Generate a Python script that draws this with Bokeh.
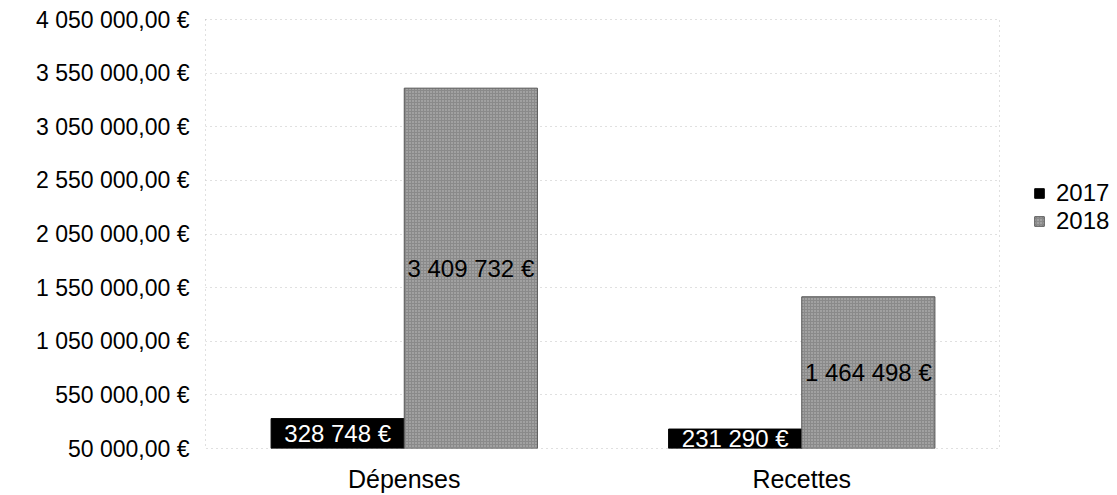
from bokeh.plotting import figure
from bokeh.models import ColumnDataSource, FixedTicker, Range1d, Legend, LegendItem, FactorRange
from bokeh.layouts import row
from bokeh.transform import dodge
from bokeh.core.properties import value
from bokeh.embed import file_html
from bokeh.resources import INLINE

categories = ["Dépenses", "Recettes"]
values_2017 = [328748, 231290]
values_2018 = [3409732, 1464498]
series_names = ["2017", "2018"]
y_ticks = [50000, 550000, 1050000, 1550000, 2050000, 2550000, 3050000, 3550000, 4050000]
base = 50000

def fmt_eur(v, dec=True):
    s = f"{int(v):,}".replace(",", " ")
    return s + (",00 €" if dec else " €")

FONT = "Liberation Sans"
C17 = dict(fill_color="black", line_color="black")
C18 = dict(fill_color="#8a8a8a", line_color="#555555",
           hatch_pattern="dot", hatch_color="white", hatch_alpha=0.5, hatch_scale=3, hatch_weight=1)

src = ColumnDataSource(dict(
    cat=categories,
    v17=values_2017,
    v18=values_2018,
    c17=[(v + base) / 2 for v in values_2017],
    c18=[(v + base) / 2 for v in values_2018],
    l17=[fmt_eur(v, False) for v in values_2017],
    l18=[fmt_eur(v, False) for v in values_2018],
    b=[base] * len(categories),
))

p = figure(width=1000, height=495, x_range=FactorRange(*categories, range_padding=0),
           y_range=Range1d(base, 4050000), output_backend="svg", toolbar_location=None,
           min_border_left=205, min_border_right=0, min_border_top=19, min_border_bottom=46)

bw = 0.335
p.vbar(x=dodge("cat", -bw / 2, range=p.x_range), top="v17", bottom="b", width=bw, source=src, **C17)
p.vbar(x=dodge("cat", bw / 2, range=p.x_range), top="v18", bottom="b", width=bw, source=src, **C18)

p.text(x=dodge("cat", -bw / 2, range=p.x_range), y="c17", text="l17", source=src,
       text_color="white", text_align="center", text_baseline="middle",
       text_font=value(FONT), text_font_size="24px")
p.text(x=dodge("cat", bw / 2, range=p.x_range), y="c18", text="l18", source=src,
       text_color="black", text_align="center", text_baseline="middle",
       text_font=value(FONT), text_font_size="24px")

p.yaxis.ticker = FixedTicker(ticks=y_ticks)
p.yaxis.major_label_overrides = {t: fmt_eur(t) for t in y_ticks}
for ax in (p.xaxis, p.yaxis):
    ax.axis_line_color = None
    ax.major_tick_line_color = None
    ax.minor_tick_line_color = None
    ax.major_label_text_font = FONT
    ax.major_label_text_color = "black"
p.yaxis.major_label_text_font_size = "23px"
p.xaxis.major_label_text_font_size = "25px"
p.yaxis.major_label_standoff = 10
p.xaxis.major_label_standoff = 10

p.xgrid.grid_line_color = None
p.ygrid.grid_line_color = "#c0c0c0"
p.ygrid.grid_line_dash = "1 4"
p.outline_line_color = "#c0c0c0"
p.outline_line_dash = "1 4"

# legend panel
lg = figure(width=117, height=495, x_range=Range1d(0, 1), y_range=Range1d(0, 1),
            x_axis_type=None, y_axis_type=None, output_backend="svg", toolbar_location=None,
            min_border=0)
lg.outline_line_color = None
lg.grid.visible = False
offscreen = ColumnDataSource(dict(x=[5], top=[5]))
d17 = lg.vbar(x="x", top="top", width=0.1, source=offscreen, **C17)
d18 = lg.vbar(x="x", top="top", width=0.1, source=offscreen, **C18)
legend = Legend(items=[LegendItem(label=series_names[0], renderers=[d17]),
                       LegendItem(label=series_names[1], renderers=[d18])],
                location=(33, 213), border_line_color=None, background_fill_alpha=0,
                label_text_font=FONT, label_text_font_size="24px", label_text_color="black",
                glyph_width=12, glyph_height=12, label_standoff=11, spacing=0,
                margin=0, padding=2)
lg.add_layout(legend)

layout = row(p, lg, spacing=0)
open("out.html", "w").write(file_html(layout, INLINE))
